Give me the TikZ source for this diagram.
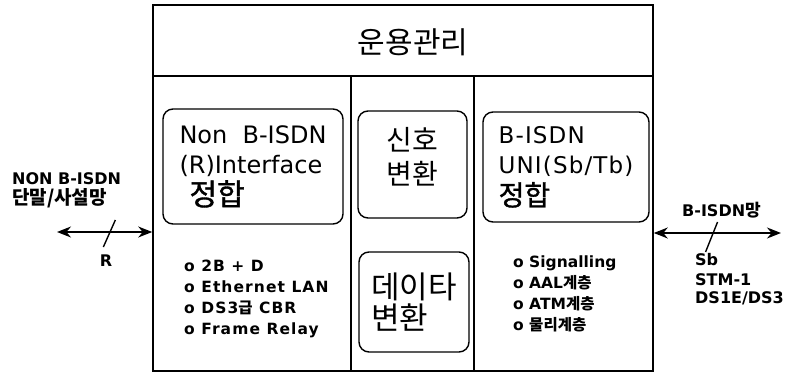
\documentclass[tikz,border=0pt]{standalone}
\usepackage{fontspec}
\setmainfont{DejaVu Sans}
\newfontfamily\krfont{Noto Sans CJK KR}
\newfontfamily\krmed[FakeBold=1.2]{Noto Sans CJK KR}
\newfontfamily\spfont[LetterSpace=7]{DejaVu Sans}
\newfontfamily\wfont[LetterSpace=5]{DejaVu Sans}
\newcommand{\kr}[1]{{\krfont #1}}
\newcommand{\krm}[1]{{\krmed #1}}
\usetikzlibrary{arrows.meta,calc}

\tikzset{
  %% frame and separators
  sysframe/.style = {rectangle, draw, line width=1.6pt, inner sep=0pt},
  sepline/.style  = {line width=1.1pt},
  %% rounded function blocks
  blk/.style = {
    rectangle, rounded corners=10pt,
    draw, line width=1.4pt, inner sep=0pt
  },
  title/.style = {inner sep=0pt, font=\krfont\fontsize{30}{30}\selectfont},
  krtxt/.style = {inner sep=0pt, font=\krfont\fontsize{28}{34}\selectfont},
  lst/.style   = {inner sep=0pt, align=left, anchor=west,
                  font=\bfseries\fontsize{15.5}{21}\selectfont},
  side/.style  = {inner sep=0pt, anchor=west,
                  font=\bfseries\fontsize{16}{18}\selectfont},
  %% interface lines
  link/.style  = {<->, >={Stealth[length=14pt,width=11pt]}, line width=1.6pt},
  tick/.style  = {line width=1.4pt},
}

\begin{document}
\begin{tikzpicture}[x=1pt, y=-1pt]
  \useasboundingbox (0,0) rectangle (785,374);

  %% system frame
  \node[sysframe, minimum width=500pt, minimum height=366pt] (sys) at (403,188) {};
  \node[title] (oam) at (413,42) {운용관리};
  \draw[sepline] (sys.west |- 0,76) -- (sys.east |- 0,76);
  \foreach \x in {351,474}
    \draw[sepline] (\x,76) -- (\x,76 |- sys.south);

  %% left column
  \node[blk, minimum width=180pt, minimum height=115pt, align=left,
        font=\fontsize{24}{30}\selectfont] (rif) at (253,166.5)
    {Non~~B-ISDN\\(R)Interface\\[2pt]\hspace*{10pt}\krm{\fontsize{30}{30}\selectfont 정합}};
  \node[lst, font=\spfont\bfseries\fontsize{15.5}{21}\selectfont] (rlst) at (184,298.5)
    {o 2B + D\\o Ethernet LAN\\o DS3\kr{급} CBR\\o Frame Relay};

  %% middle column
  \node[blk, minimum width=109pt, minimum height=107pt] (sig) at (412.5,164.5) {};
  \node[krtxt, align=center] (sigtxt) at (412,157) {신호\\변환};
  \node[blk, minimum width=110pt, minimum height=100pt, align=left,
        font=\krfont\fontsize{31}{31}\selectfont] (dat) at (414,302)
    {데이타\\변환};

  %% right column
  \node[blk, minimum width=166pt, minimum height=110pt, align=left,
        font=\wfont\fontsize{23}{30}\selectfont] (uni) at (566,167)
    {B-ISDN\\UNI(Sb/Tb)\\[2pt]\krm{\fontsize{28}{30}\selectfont 정합}};
  \node[lst] (ulst) at (513,293.5)
    {o Signalling\\o AAL\kr{계층}\\o ATM\kr{계층}\\o \kr{물리계층}};

  %% R reference point
  \coordinate (lterm) at (57,232);
  \draw[link] (lterm) -- (lterm -| sys.west);
  \draw[tick] ($(lterm)!0.55!(lterm -| sys.west)$) +(6,-12) -- +(-6,15);
  \node[side] (nonlbl) at (12,179) {NON B-ISDN};
  \node[side] (termlbl) at (12,198) {\kr{\fontsize{19}{20}\selectfont 단말/사설망}};
  \node[side, anchor=center] (rlbl) at (106,261) {R};

  %% Sb reference point
  \coordinate (rterm) at (781,233);
  \draw[link] (rterm -| sys.east) -- (rterm);
  \draw[tick] ($(rterm -| sys.east)!0.47!(rterm)$) +(4,-11) -- +(-8,19);
  \node[side] (netlbl) at (682,210) {B-ISDN\kr{\fontsize{17}{18}\selectfont 망}};
  \node[side] (sblbl) at (695,260) {Sb};
  \node[side] (stmlbl) at (695,280) {STM-1};
  \node[side] (dslbl) at (695,298) {DS1E/DS3};
\end{tikzpicture}
\end{document}
